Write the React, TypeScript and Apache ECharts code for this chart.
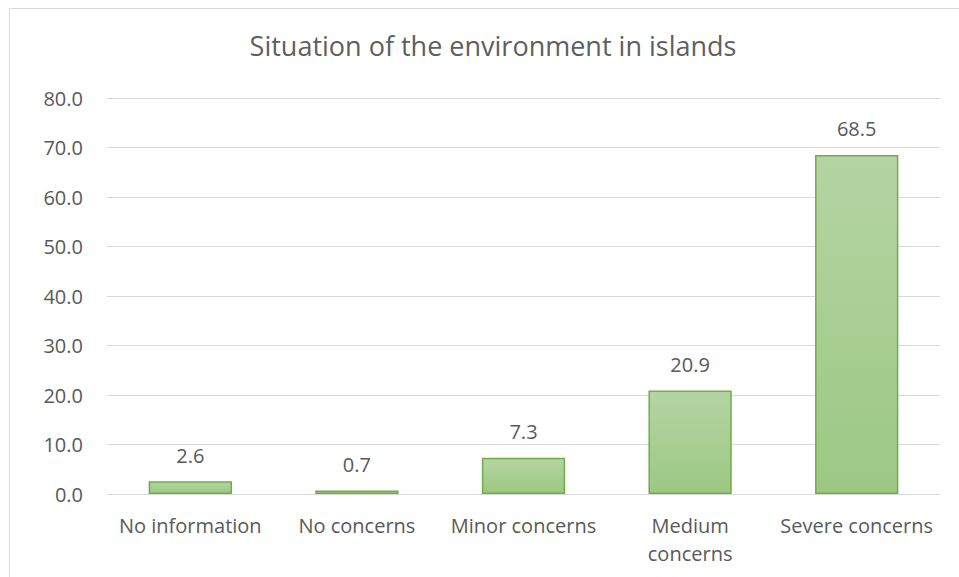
import React, { useEffect, useRef } from "react";
import * as echarts from "echarts";

const categories = ["No information", "No concerns", "Minor concerns", "Medium\nconcerns", "Severe concerns"];
const values = [2.6, 0.7, 7.3, 20.9, 68.5];
const titleText = "Situation of the environment in islands";

export default function App() {
  const ref = useRef<HTMLDivElement>(null);
  useEffect(() => {
    const chart = echarts.init(ref.current!, null, { renderer: "svg" });
    const font = "'Open Sans', Carlito, Calibri, sans-serif";
    chart.setOption({
      animation: false,
      backgroundColor: "#ffffff",
      textStyle: { fontFamily: font },
      title: {
        text: titleText,
        left: 488,
        top: 27,
        textAlign: "center",
        textStyle: { fontFamily: font, fontSize: 27, fontWeight: "normal", color: "#5f5f5f" },
      },
      graphic: [
        {
          type: "rect",
          shape: { x: 9.5, y: 8.5, width: 960, height: 580 },
          style: { fill: "none", stroke: "#d9d9d9", lineWidth: 1 },
          silent: true,
        },
      ],
      grid: { left: 107, right: 19, top: 98, bottom: 83, containLabel: false },
      xAxis: {
        type: "category",
        data: categories,
        axisLine: { show: true, lineStyle: { color: "#d9d9d9", width: 1 } },
        axisTick: { show: false },
        axisLabel: { color: "#595959", fontSize: 20, fontFamily: font, margin: 17, lineHeight: 28, interval: 0 },
      },
      yAxis: {
        type: "value",
        min: 0,
        max: 80,
        interval: 10,
        axisLine: { show: false },
        axisTick: { show: false },
        splitLine: { lineStyle: { color: "#d9d9d9", width: 1 } },
        axisLabel: {
          color: "#595959",
          fontSize: 20,
          fontFamily: font,
          margin: 24,
          formatter: (v: number) => v.toFixed(1),
        },
      },
      series: [
        {
          type: "bar",
          data: values,
          barWidth: "50%",
          itemStyle: {
            color: new echarts.graphic.LinearGradient(0, 0, 0, 1, [
              { offset: 0, color: "#b5d4a3" },
              { offset: 1, color: "#9cc883" },
            ]),
            borderColor: "#70ad47",
            borderWidth: 1.5,
          },
          label: {
            show: true,
            position: "top",
            distance: 16,
            color: "#595959",
            fontSize: 20,
            fontFamily: font,
            formatter: (p: any) => Number(p.value).toFixed(1),
          },
        },
      ],
    });
    return () => chart.dispose();
  }, []);
  return <div ref={ref} style={{ position: "fixed", left: 0, top: 0, width: 959, height: 577 }} />;
}
